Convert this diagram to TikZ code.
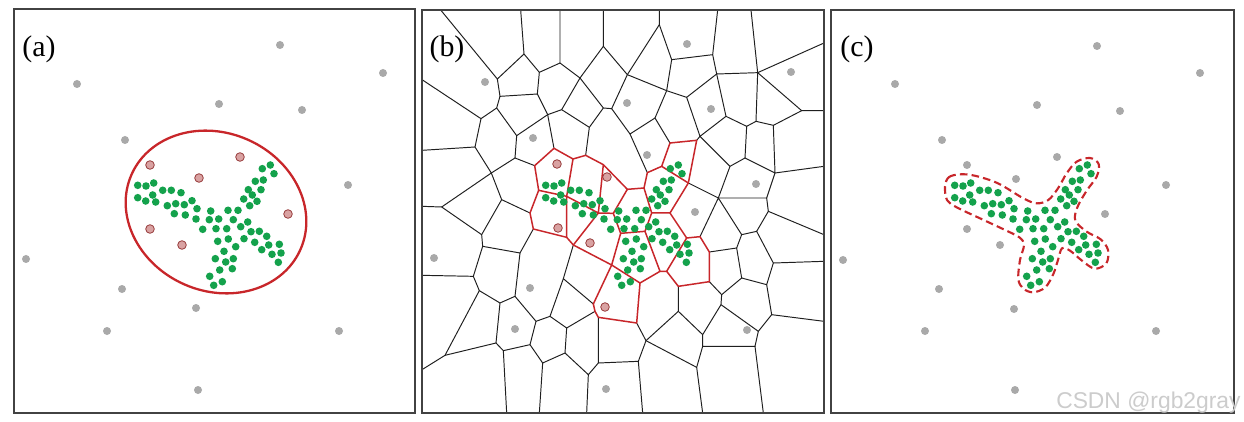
\documentclass[tikz,border=0pt]{standalone}
\usepackage{fontspec}
\setmainfont{Liberation Serif}
\newfontfamily\marksans{Liberation Sans}
\usepackage{xcolor}
\usepackage{tikz}
\definecolor{dotgray}{HTML}{A9A9A9}
\definecolor{seedgreen}{HTML}{14A24C}
\definecolor{hullred}{HTML}{C8262A}
\definecolor{pinkfill}{HTML}{D9A2A2}
\definecolor{pinkedge}{HTML}{973A3A}
\newcommand{\grayA}{280/45, 383/73, 77/84, 219/104, 302/110, 125/140, 348/185, 26/259, 122/289, 196/308, 107/331, 339/331, 198/390}
\newcommand{\pinkA}{150/165, 199/178, 240/157, 288/214, 150/229, 182/245}
\newcommand{\grayB}{687/44, 791/72, 485/82, 627/103, 711/109, 533/138, 647/155, 756/184, 695/212, 434/258, 530/288, 515/329, 747/330, 606/389}
\newcommand{\pinkB}{557/164, 607/177, 558/228, 590/243, 605/307}
\newcommand{\grayC}{1097/46, 1200/73, 895/84, 1037/105, 1120/111, 942/140, 1057/157, 967/165, 1016/179, 1166/185, 1105/214, 967/229, 1000/245, 843/260, 939/289, 1014/309, 925/331, 1156/331, 1015/390}
\newcommand{\greenpts}{137.7/185.3, 146/186, 153.7/183, 137.7/197.7, 145.7/201, 152.7/195, 155.7/202, 162.7/190.3, 171.3/190.3, 181/192.7, 167.3/205.7, 175.7/203.7, 184.3/204.7, 192/200.7, 174.3/213.7, 185.3/215, 197/208.7, 196/219, 210.7/211, 228/210.3, 238/210.3, 209.3/219.7, 218.7/219, 233.3/219.7, 202.7/229.3, 216/228.7, 226.7/228.7, 240.7/226.7, 247.7/222, 217.7/241.3, 228.3/239, 235.7/246.7, 244/238.7, 251/231.7, 262.3/168.7, 270.3/165, 274/173.7, 255.3/181.3, 263.3/180, 248.3/189.7, 252.3/195, 261/189.7, 243.7/199, 257/201.3, 249.7/205.7, 259.3/231.3, 266.7/236.3, 254.7/242.3, 261.7/249.7, 268.7/245, 279.3/244.3, 281/253, 272/254.3, 278.3/262.3, 224/251.3, 215.3/258.7, 225.7/262, 233.3/258.7, 219.7/270, 232.3/268.7, 209.7/276.3, 222.3/281.7, 213.7/285.3}
\tikzset{
  panel/.style={draw=black!74, line width=1.15pt},
  tag/.style={font=\fontsize{17}{18}\selectfont, inner sep=0pt},
  cell/.style={draw=black!88, line width=0.55pt, line cap=round, line join=round},
  redcell/.style={draw=hullred, line width=0.85pt, line cap=round, line join=round},
  ring/.style={draw=hullred, line width=1.3pt},
  hull/.style={draw=hullred, line width=1.2pt, dash pattern=on 4.3pt off 2.4pt},
  pinkdot/.style={fill=pinkfill, draw=pinkedge, line width=0.45pt},
  wmarktext/.style={font=\marksans\fontsize{13}{14}\selectfont, text=black!20, inner sep=0pt},
}

\begin{document}
\begin{tikzpicture}[x=0.02cm, y=-0.02cm]
  \useasboundingbox (0,0) rectangle (1244,422);
  \fill[white] (0,0) rectangle (1244,422);
  % Voronoi cells of panel (b), in three-times pixel units
  \begin{scope}[shift={(418,0)}, scale=1/3]
    \foreach \n/\x/\y in {t1/68/30, t2/308/30, t3/426/30, t4/556/30, t5/724/30, t6/899/30, t7/999/30,
      l1/12/239, l2/12/451, l3/12/619, l4/12/826, l5/12/1109,
      r1/1218/129, r2/1218/332, r3/1218/499, r4/1218/704, r5/1218/784, r6/1218/964,
      b1/266/1239, b2/364/1239, b3/506/1239, b4/674/1239, b5/854/1239, b6/1036/1239,
      v1/238/237, v2/318/162, v3/246/289, v4/364/217, v5/426/189, v6/358/282, v7/236/324, v8/189/356,
      v9/296/407, v10/486/234, v11/389/344, v12/431/329, v13/514/382, v14/556/139, v15/556/324,
      v16/628/224, v17/581/326, v18/636/402, v19/724/74, v20/746/272, v21/761/179, v22/884/164,
      v23/896/222, v24/806/292, v25/1019/218, v26/846/409, v27/924/349, v28/986/379, v29/1014/364,
      v30/1066/376, v31/1151/332, v32/711/354, v33/171/441, v34/220/519, v35/71/621, v36/191/704,
      v37/291/474, v40/251/599, v41/194/739, v42/306/759, v43/436/836, v44/184/872, v45/246/909,
      v46/291/889, v47/81/1066, v48/234/1029, v49/911/884, v50/909/914, v51/854/1004, v52/854/1039,
      v53/1011/1039, v54/836/1102, v55/1021/994, v56/1061/944, v57/684/1022, v58/661/1084,
      v59/781/934, v60/166/829, v61/354/964, v62/396/949, v63/446/984, v64/336/1034, v65/256/1052,
      v66/374/1089, v67/441/1059, v68/511/1124, v69/541/1089,
      a1/936/499, a2/981/474, a3/901/594, a4/1071/519, a5/1046/594, a6/1051/634, a7/1016/694,
      a8/971/704, a9/956/744, a10/1066/789, a11/971/834, a12/1046/854,
      p1/350/497, p2/408/445, p3/465/477, p4/503/466, p5/556/494, p6/362/571, p7/446/589,
      p8/336/639, p9/346/687, p10/446/712, p11/466/735, p12/541/639, p13/628/568, p14/678/564,
      p15/688/518, p16/731/499, p17/756/429, p18/836/421, p19/811/549, p20/701/639, p21/756/639,
      p22/681/694, q1/586/640, q2/608/700, p24/581/795, p25/806/714, p26/846/710, p27/874/756,
      p28/874/845, p29/781/859, p30/746/814, p31/726/814, p32/666/849, p33/656/969, p34/541/952,
      p36/531/934, p35/526/912}
      \coordinate (\n) at (\x,\y);
  \end{scope}
  \draw[cell] (t1)--(v1)--(v3)--(v7)--(v8)--(l1);
  \draw[cell] (t2)--(v2)--(v1);
  \draw[cell] (v2)--(v4)--(v6)--(v3);
  \draw[cell] (v4)--(v5)--(t3);
  \draw[cell] (v5)--(v10)--(v14)--(t4);
  \draw[cell] (v14)--(v16)--(v19)--(t5);
  \draw[cell] (v19)--(v21)--(v22)--(t6);
  \draw[cell] (v22)--(v23)--(v25)--(t7);
  \draw[cell] (v25)--(r1);
  \draw[cell] (v25)--(v31)--(r2);
  \draw[cell] (v21)--(v20)--(v16);
  \draw[cell] (v20)--(v24)--(v23);
  \draw[cell] (v25)--(v29)--(v30)--(v31);
  \draw[cell] (v23)--(v27)--(v28)--(v29);
  \draw[cell] (v27)--(v26)--(v24);
  \draw[cell] (v10)--(v15)--(v17)--(v16);
  \draw[cell] (v17)--(v18)--(v32)--(v20);
  \draw[cell] (v6)--(v11)--(v12)--(v10);
  \draw[cell] (v12)--(v13)--(v15);
  \draw[cell] (v7)--(v9)--(v11);
  \draw[cell] (v8)--(v33)--(l2);
  \draw[cell] (v33)--(v34)--(v35)--(l3);
  \draw[cell] (v34)--(v37)--(v9);
  \draw[cell] (v34)--(v40)--(v36);
  \draw[cell] (v35)--(v36)--(v41)--(v42);
  \draw[cell] (v41)--(v60)--(l4);
  \draw[cell] (v60)--(v44)--(v45)--(v46)--(v42);
  \draw[cell] (v44)--(v47)--(l5);
  \draw[cell] (v47)--(v48)--(v45);
  \draw[cell] (v37)--(p1) (v11)--(p2) (v13)--(p4) (v40)--(p8) (v42)--(p9);
  \draw[cell] (v18)--(p15) (v32)--(p17) (v26)--(p18);
  \draw[cell] (v28)--(a2)--(a1)--(v26);
  \draw[cell] (a2)--(a4)--(v30);
  \draw[cell] (a4)--(r3);
  \draw[cell] (a4)--(a5)--(a3)--(p19);
  \draw[cell] (a1)--(a3)--(p26) (a3)--(a8);
  \draw[cell] (a5)--(a6)--(r4);
  \draw[cell] (a6)--(a7)--(a8)--(a9)--(p27);
  \draw[cell] (a7)--(a10)--(r5);
  \draw[cell] (a10)--(a12)--(a11)--(a9);
  \draw[cell] (a11)--(v49)--(p28);
  \draw[cell] (v49)--(v50)--(v51)--(v59)--(p29);
  \draw[cell] (v59)--(v57)--(p33);
  \draw[cell] (v57)--(v58)--(b4);
  \draw[cell] (v58)--(v69)--(p34);
  \draw[cell] (v69)--(v68)--(b3);
  \draw[cell] (v68)--(v67)--(v66)--(b2);
  \draw[cell] (v67)--(v63)--(p36);
  \draw[cell] (v63)--(v62)--(v43)--(p11) (v43)--(p35);
  \draw[cell] (v62)--(v61)--(v46);
  \draw[cell] (v61)--(v64)--(v65)--(b1);
  \draw[cell] (v64)--(v66) (v65)--(v48);
  \draw[cell] (v51)--(v52)--(v53)--(v55)--(v50);
  \draw[cell] (v53)--(b6);
  \draw[cell] (v55)--(v56)--(a12);
  \draw[cell] (v56)--(r6);
  \draw[cell] (v52)--(v54)--(b5);
  \draw[cell] (v54)--(v57);
  \draw[redcell] (p8)--(p6)--(p1)--(p2)--(p3)--(p4)--(p5)--(p13)--(p14)--(p15)--(p16)--(p17)--(p18)--(p19)--(p21)--(p25)--(p26)--(p27)--(p28)--(p29)--(p30)--(p31)--(p32)--(p33)--(p34)--(p36)--(p35)--(p24)--(p11)--(p10)--(p9)--cycle;
  \draw[redcell] (p6)--(p7)--(p10) (p3)--(p7)--(p12)--(p11) (p5)--(p12)--(q1)--(p13);
  \draw[redcell] (q1)--(q2)--(p24) (q2)--(p22)--(p20)--(p14) (p20)--(p21) (p16)--(p19);
  \draw[redcell] (p22)--(p31) (p25)--(p30) (p32)--(p24);
  % outline round the cluster of panel (c)
  \begin{scope}[shift={(828,0)}, scale=1/3]
    \draw[hull] plot[smooth cycle, tension=0.55] coordinates {(351,560) (362,532) (395,523) (440,527) (510,550)
      (586,595) (626,610) (661,600) (690,565) (716,520) (746,485) (786,474) (812,492) (806,530) (776,572)
      (748,622) (742,662) (776,695) (818,718) (840,750) (835,790) (800,806) (762,782) (726,752) (702,745)
      (690,780) (676,822) (652,862) (616,877) (586,866) (571,838) (576,780) (588,735) (574,712) (531,690)
      (456,655) (386,622) (357,600)};
  \end{scope}
  \draw[ring, rotate around={-24:(216,212)}] (216,212) ellipse[x radius=92.4, y radius=79];
  \foreach \x/\y in \grayA {\fill[dotgray] (\x,\y) circle[radius=4];}
  \foreach \x/\y in \grayB {\fill[dotgray] (\x,\y) circle[radius=4];}
  \foreach \x/\y in \grayC {\fill[dotgray] (\x,\y) circle[radius=4];}
  \foreach \x/\y in \pinkA {\filldraw[pinkdot] (\x,\y) circle[radius=4.3];}
  \foreach \x/\y in \pinkB {\filldraw[pinkdot] (\x,\y) circle[radius=4.3];}
  \foreach \dx in {0,408,817} {
    \foreach \x/\y in \greenpts {\fill[seedgreen] (\x+\dx,\y) circle[radius=3.8];}
  }
  \draw[panel] (14,9) rectangle (415,413);
  \draw[panel] (422,10) rectangle (824,413);
  \draw[panel] (831,10) rectangle (1234,413);
  \node[tag] (taga) at (39,49) {(a)};
  \node[tag] (tagb) at (447,49) {(b)};
  \node[tag] (tagc) at (857,49) {(c)};
  \node[wmarktext, anchor=east] (wmark) at (1241,403) {CSDN @rgb2gray};
\end{tikzpicture}
\end{document}
